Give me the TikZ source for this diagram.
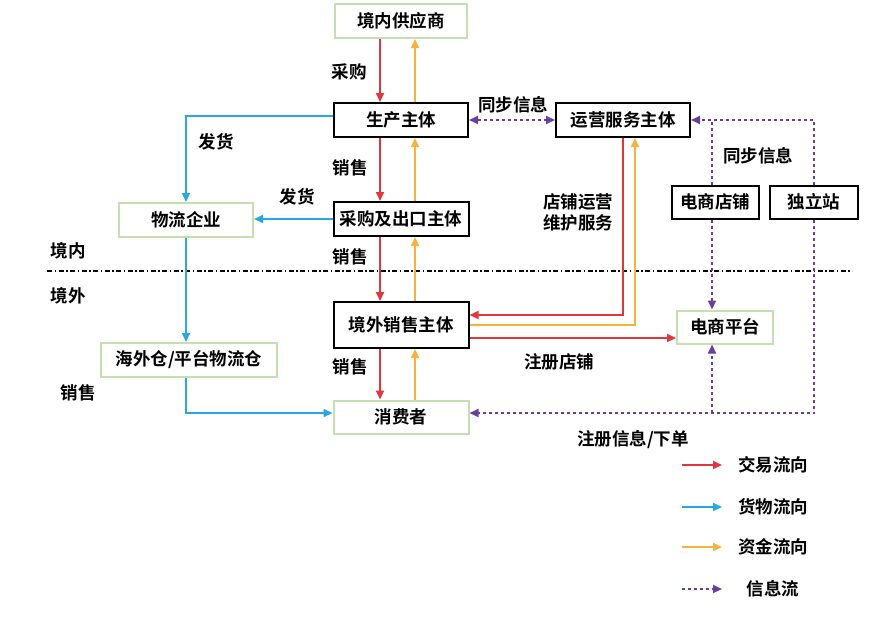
\documentclass[tikz,border=0pt]{standalone}
\usepackage{fontspec}
\setmainfont{Noto Sans CJK SC}[BoldFont={Noto Sans CJK SC Bold}]
\usetikzlibrary{arrows.meta}

\definecolor{jyred}{HTML}{E2363E}
\definecolor{hwblue}{HTML}{29A8DF}
\definecolor{zjorange}{HTML}{F6B23F}
\definecolor{xxpurple}{HTML}{6A3F9C}
\definecolor{lvbox}{HTML}{C4DFB2}

\begin{document}
\begin{tikzpicture}[x=1pt,y=-1pt,
    font=\fontsize{17.5}{21}\selectfont\bfseries,
    box/.style={draw=black, line width=2pt, minimum height=34pt, inner sep=0pt},
    gbox/.style={box, draw=lvbox},
    tip/.style={-{Triangle[length=9pt,width=8pt]}},
    jy/.style={tip, draw=jyred, line width=2pt},
    hw/.style={tip, draw=hwblue, line width=2pt},
    zj/.style={tip, draw=zjorange, line width=2pt},
    xxline/.style={draw=xxpurple, line width=2pt, dash pattern=on 3pt off 3pt},
    xx/.style={xxline, tip}]

    \useasboundingbox (0,0) rectangle (870,621);

    % boxes
    \node[gbox, minimum width=132pt] (gys) at (401,21) {境内供应商};
    \node[box, minimum width=134pt] (scz) at (401,120) {生产主体};
    \node[box, minimum width=134pt] (yy) at (623,120) {运营服务主体};
    \node[gbox, minimum width=134pt] (wl) at (186,220) {物流企业};
    \node[box, minimum width=135pt] (cg) at (401,219) {采购及出口主体};
    \node[box, minimum width=87pt, minimum height=33pt] (dpu) at (715,202) {电商店铺};
    \node[box, minimum width=88pt, minimum height=33pt] (dlz) at (814,202) {独立站};
    \node[box, minimum width=135pt, minimum height=46pt] (jw) at (401,325) {境外销售主体};
    \node[gbox, minimum width=96pt, minimum height=33pt] (pt) at (725,327) {电商平台};
    \node[gbox, minimum width=176pt] (hwc) at (189,360) {海外仓/平台物流仓};
    \node[gbox, minimum width=135pt, minimum height=33pt] (xf) at (401,417) {消费者};

    % border line
    \coordinate (bl) at (47,271);
    \coordinate (br) at (852,271);
    \draw[line width=1.3pt, dash pattern=on 5pt off 2.5pt on 1.5pt off 2.5pt] (bl) -- (br);
    \node (jn) at (68,251) {境内};
    \node (jwl) at (68,296) {境外};

    % trade and money down the chain
    \foreach \a/\b in {gys/scz, scz/cg, cg/jw, jw/xf} {
        \draw[jy] ([xshift=-21pt]\a.south) -- ([xshift=-21pt]\b.north);
        \draw[zj] ([xshift=14pt]\b.north) -- ([xshift=14pt]\a.south);
    }
    \node (cgl) at (349,72) {采购};
    \node (xs1) at (350,168) {销售};
    \node (xs2) at (350,257) {销售};
    \node (xs3) at (350,367) {销售};

    % goods
    \draw[hw] ([yshift=4pt]scz.west) -| (wl.north);
    \draw[hw] (cg.west) -- (cg.west -| wl.east);
    \draw[hw] (wl.south) -- (wl.south |- hwc.north);
    \draw[hw] (wl.south |- hwc.south) |- ([yshift=4pt]xf.west);
    \node (fh1) at (216,142) {发货};
    \node (fh2) at (297,197) {发货};
    \node (xs4) at (78,393) {销售};

    % operation service
    \draw[xxline, {Triangle[length=9pt,width=8pt]}-{Triangle[length=9pt,width=8pt]}] (scz.east) -- (yy.west);
    \node (tb1) at (513,105) {同步信息};
    \draw[jy] (yy.south) |- ([yshift=10pt]jw.east);
    \draw[zj] (jw.east) -| ([xshift=12pt]yy.south);
    \draw[jy] ([yshift=-13pt]jw.east) -- ([yshift=-13pt]jw.east -| pt.west);
    \node[align=left] (dpyy) at (578,212) {店铺运营\\维护服务};
    \node (zcdp) at (559,362) {注册店铺};

    % information
    \draw[xx] (dlz.north) |- (yy.east);
    \draw[xxline] ([xshift=-3pt]dpu.north) -- ([xshift=-3pt]dpu.north |- yy.east);
    \draw[xx] ([xshift=-3pt]dpu.south) -- ([xshift=-3pt]dpu.south |- pt.north);
    \draw[xx] (dlz.south) |- ([yshift=4pt]xf.east);
    \coordinate (hj) at (712,413);
    \draw[xx] (hj) -- (hj |- pt.south);
    \node (tb2) at (758,156) {同步信息};
    \node (zcxx) at (633,440) {注册信息/下单};

    % legend
    \foreach \y/\s/\t in {465/jy/交易流向, 507/hw/货物流向, 547/zj/资金流向, 589/xx/信息流} {
        \coordinate (la\y) at (682,\y);
        \coordinate (lb\y) at (722,\y);
        \draw[\s] (la\y) -- (lb\y);
        \node (lt\y) at (773,\y) {\t};
    }

\end{tikzpicture}
\end{document}
